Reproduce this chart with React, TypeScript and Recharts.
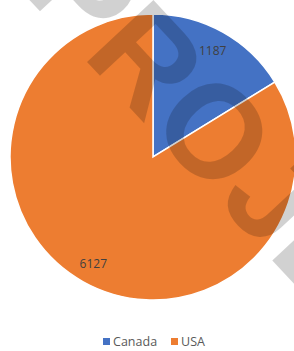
import { PieChart, Pie, Cell, Legend } from "recharts";

const countries = ["Canada", "USA"];
const totals = [1187, 6127];
const colors = ["#4472C4", "#ED7D31"];
const watermark = "PROJECT";

const data = countries.map((name, i) => ({ name, value: totals[i] }));

const RADIAN = Math.PI / 180;

const renderLabel = (props: any) => {
  const { cx, cy, midAngle, outerRadius, value } = props;
  const r = outerRadius * 0.855;
  const x = cx + r * Math.cos(-midAngle * RADIAN);
  const y = cy + r * Math.sin(-midAngle * RADIAN);
  return (
    <text
      x={x}
      y={y}
      fill="#404040"
      fontSize={12}
      fontFamily="Open Sans, sans-serif"
      textAnchor="middle"
      dominantBaseline="central"
    >
      {value}
    </text>
  );
};

const renderLegend = (props: any) => {
  const { payload } = props;
  return (
    <div
      style={{
        display: "flex",
        justifyContent: "center",
        paddingLeft: 14,
        fontSize: 12.5,
        fontFamily: "Open Sans, sans-serif",
        color: "#595959",
      }}
    >
      {payload.map((p: any) => (
        <span
          key={p.value}
          style={{ display: "flex", alignItems: "center", margin: "0 7px" }}
        >
          <span
            style={{
              width: 7,
              height: 7,
              background: p.color,
              marginRight: 3,
              display: "inline-block",
            }}
          />
          {p.value}
        </span>
      ))}
    </div>
  );
};

const App = () => {
  return (
    <div
      style={{
        position: "absolute",
        left: 0,
        top: 0,
        width: 294,
        height: 351,
        background: "#fff",
        overflow: "hidden",
      }}
    >
      <PieChart
        width={294}
        height={351}
        margin={{ top: 0, right: 0, bottom: 0, left: 0 }}
      >
        <Pie
          data={data}
          dataKey="value"
          nameKey="name"
          cx={153}
          cy={157}
          outerRadius={143}
          startAngle={90}
          endAngle={-270}
          stroke="#fff"
          strokeWidth={1.5}
          label={renderLabel}
          labelLine={false}
          isAnimationActive={false}
        >
          {data.map((d, i) => (
            <Cell key={d.name} fill={colors[i]} />
          ))}
        </Pie>
        <Legend
          verticalAlign="bottom"
          content={renderLegend}
          wrapperStyle={{ left: 0, width: 294, bottom: 1 }}
        />
      </PieChart>
      <svg
        width={294}
        height={351}
        style={{ position: "absolute", left: 0, top: 0, pointerEvents: "none" }}
      >
        <text
          x={0}
          y={0}
          transform="translate(21,-9) rotate(47)"
          fontSize={132}
          fontWeight="bold"
          fontFamily="Liberation Sans, sans-serif"
          fill="#000"
          fillOpacity={0.18}
        >
          {watermark}
        </text>
      </svg>
    </div>
  );
};

export default App;
